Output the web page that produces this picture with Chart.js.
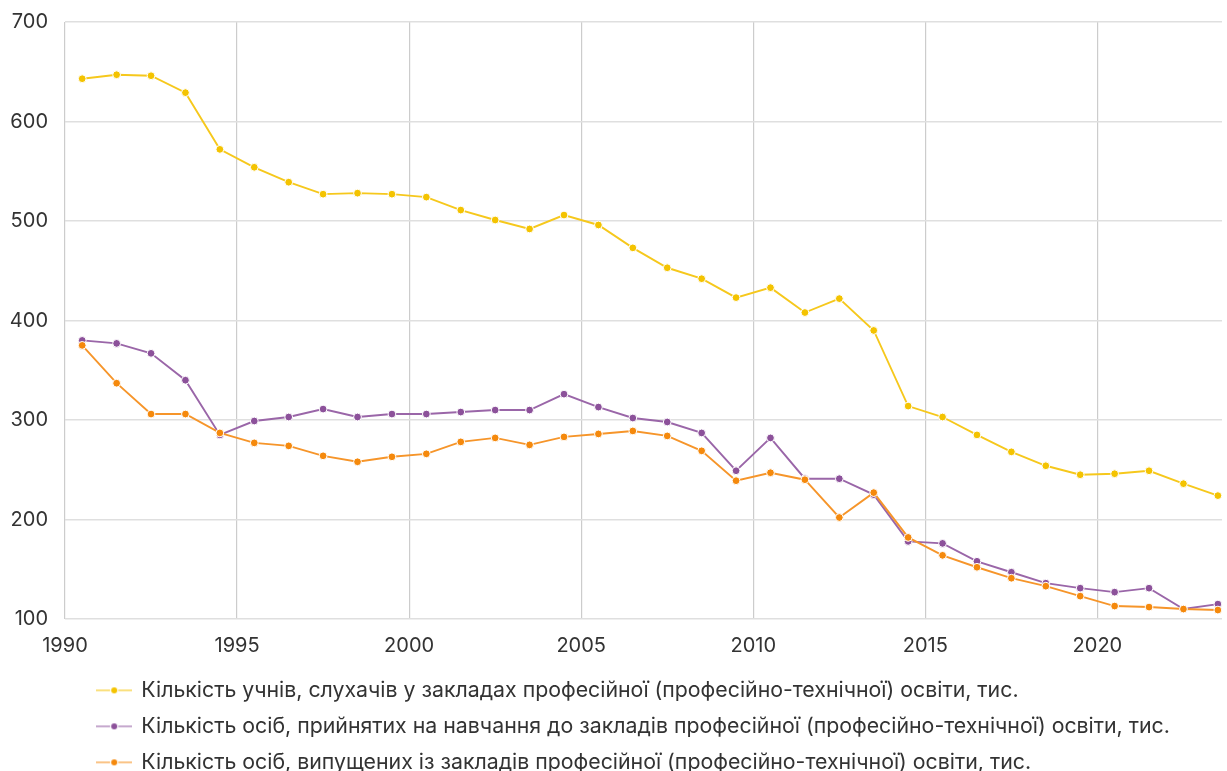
<!DOCTYPE html>
<html lang="uk">
<head>
<meta charset="utf-8">
<title>Професійна (професійно-технічна) освіта</title>
<script src="https://cdn.jsdelivr.net/npm/chart.js@4/dist/chart.umd.min.js"></script>
<style>
  html, body { margin: 0; padding: 0; background: #ffffff; overflow: hidden; }
  #wrap { width: 1227px; height: 771px; overflow: hidden; position: relative; }
  canvas { display: block; margin-top: -7px; }
</style>
</head>
<body>
<div id="wrap"><canvas id="chart" width="1227" height="790"></canvas></div>
<script>
// Academic years, plotted at the middle of each calendar year (1990/91 -> 1990.5)
const years = [
  1990.5, 1991.5, 1992.5, 1993.5, 1994.5, 1995.5, 1996.5, 1997.5, 1998.5, 1999.5,
  2000.5, 2001.5, 2002.5, 2003.5, 2004.5, 2005.5, 2006.5, 2007.5, 2008.5, 2009.5,
  2010.5, 2011.5, 2012.5, 2013.5, 2014.5, 2015.5, 2016.5, 2017.5, 2018.5, 2019.5,
  2020.5, 2021.5, 2022.5, 2023.5
];

// Students enrolled, thousands
const students = [
  643, 647, 646, 629, 572, 554, 539, 527, 528, 527,
  524, 511, 501, 492, 506, 496, 473, 453, 442, 423,
  433, 408, 422, 390, 314, 303, 285, 268, 254, 245,
  246, 249, 236, 224
];

// Persons admitted to study, thousands
const admitted = [
  380, 377, 367, 340, 285, 299, 303, 311, 303, 306,
  306, 308, 310, 310, 326, 313, 302, 298, 287, 249,
  282, 241, 241, 225, 178, 176, 158, 147, 136, 131,
  127, 131, 110, 115
];

// Graduates, thousands
const graduates = [
  375, 337, 306, 306, 287, 277, 274, 264, 258, 263,
  266, 278, 282, 275, 283, 286, 289, 284, 269, 239,
  247, 240, 202, 227, 182, 164, 152, 141, 133, 123,
  113, 112, 110, 109
];

const seriesNames = [
  'Кількість учнів, слухачів у закладах професійної (професійно-технічної) освіти, тис.',
  'Кількість осіб, прийнятих на навчання до закладів професійної (професійно-технічної) освіти, тис.',
  'Кількість осіб, випущених із закладів професійної (професійно-технічної) освіти, тис.'
];

const xTicks = [1990, 1995, 2000, 2005, 2010, 2015, 2020];
const yTicks = [100, 200, 300, 400, 500, 600, 700];

const colors = ['#F4C300', '#8C519A', '#F5890C'];
const lineColors = ['#F6C81C', '#9A66A8', '#F6952A'];

const toPoints = (vals) => vals.map((v, i) => ({ x: years[i], y: v }));

// Small "line — dot — line" swatch used as the legend marker
function legendMark(lineColor, dotColor) {
  const c = document.createElement('canvas');
  c.width = 36; c.height = 10;
  const g = c.getContext('2d');
  g.globalAlpha = 0.75;
  g.strokeStyle = lineColor;
  g.lineWidth = 1.6;
  g.beginPath(); g.moveTo(0, 5); g.lineTo(36, 5); g.stroke();
  g.globalAlpha = 1;
  g.fillStyle = '#ffffff';
  g.beginPath(); g.arc(18, 5, 4.2, 0, Math.PI * 2); g.fill();
  g.fillStyle = dotColor;
  g.beginPath(); g.arc(18, 5, 3, 0, Math.PI * 2); g.fill();
  return c;
}
const marks = colors.map((c, i) => legendMark(lineColors[i], c));

const datasetSources = [students, admitted, graduates];
const datasets = datasetSources.map((vals, i) => ({
  label: seriesNames[i],
  data: toPoints(vals),
  borderColor: lineColors[i],
  backgroundColor: colors[i],
  borderWidth: 1.9,
  pointRadius: 3.9,
  pointBackgroundColor: colors[i],
  pointBorderColor: '#ffffff',
  pointBorderWidth: 1,
  tension: 0,
  order: 2 - i
}));

// Shift the legend block to its indent under the plot
const legendInset = {
  id: 'legendInset',
  afterLayout(chart) {
    if (chart.legend) chart.legend.left = 83;
  }
};

const FONT = 'Inter, "Noto Sans", "DejaVu Sans", sans-serif';

new Chart(document.getElementById('chart'), {
  type: 'line',
  data: { datasets },
  plugins: [legendInset],
  options: {
    responsive: false,
    animation: false,
    devicePixelRatio: 1,
    layout: { padding: { top: 15, left: 0, right: 0, bottom: 0 } },
    scales: {
      x: {
        type: 'linear',
        min: 1990,
        max: 2023.62,
        afterBuildTicks: (s) => { s.ticks = xTicks.map(v => ({ value: v })); },
        afterFit: (s) => { s.height = 46; },
        border: { display: false },
        grid: { color: '#cccccc', lineWidth: 1.2, drawTicks: false },
        ticks: {
          padding: 15,
          color: '#333333',
          font: { family: FONT, size: 20 },
          maxRotation: 0,
          callback: (v) => String(v)
        }
      },
      y: {
        min: 100,
        max: 700,
        afterBuildTicks: (s) => { s.ticks = yTicks.map(v => ({ value: v })); },
        afterFit: (s) => { s.width = 65; },
        border: { display: false },
        grid: { color: '#dfdfdf', lineWidth: 1.6, drawTicks: false },
        ticks: {
          padding: 17,
          color: '#333333',
          font: { family: FONT, size: 20 }
        }
      }
    },
    plugins: {
      tooltip: { enabled: false },
      legend: {
        position: 'bottom',
        align: 'start',
        labels: {
          usePointStyle: true,
          pointStyleWidth: 33,
          padding: 14.7,
          color: '#333333',
          font: { family: FONT, size: 21.3 },
          sort: (a, b) => a.datasetIndex - b.datasetIndex,
          generateLabels: (chart) => {
            const items = Chart.defaults.plugins.legend.labels.generateLabels(chart);
            items.forEach(it => { it.pointStyle = marks[it.datasetIndex]; });
            return items;
          }
        }
      }
    }
  }
});
</script>
</body>
</html>
